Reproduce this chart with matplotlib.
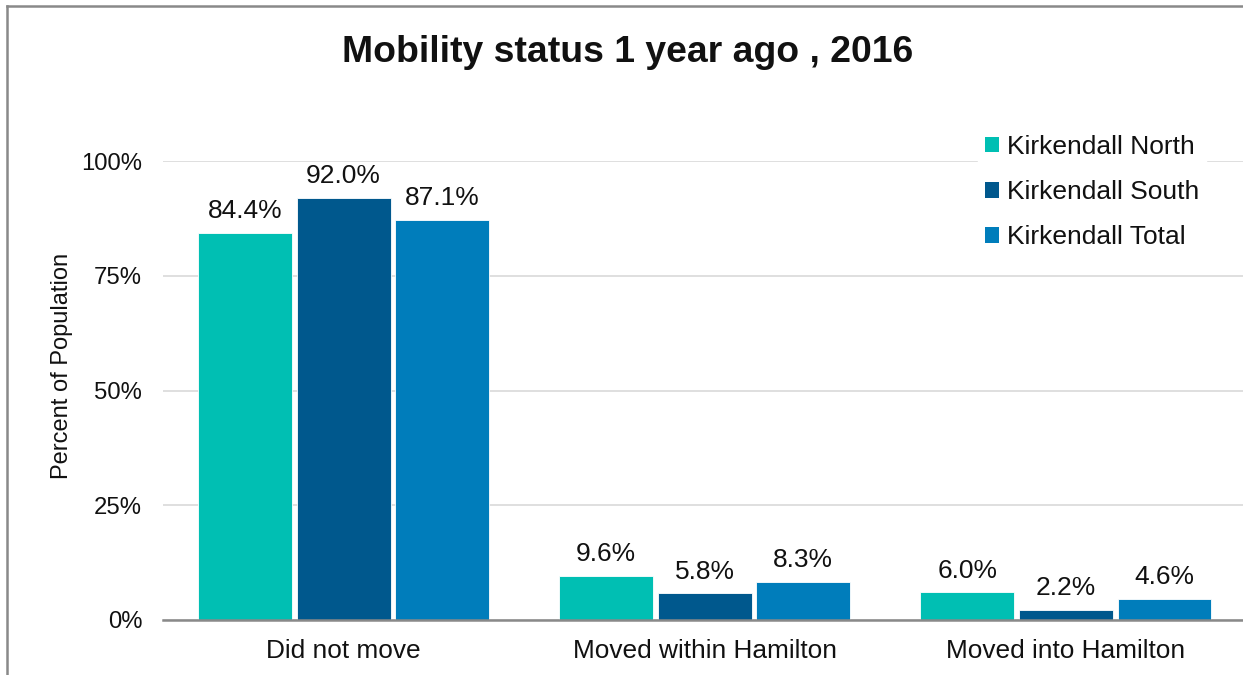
import matplotlib.pyplot as plt
from matplotlib.patches import Patch
from matplotlib.lines import Line2D
from matplotlib.ticker import PercentFormatter
import numpy as np

plt.rcParams['font.family'] = ['Liberation Sans', 'DejaVu Sans']

categories = ['Did not move', 'Moved within Hamilton', 'Moved into Hamilton']
series = ['Kirkendall North', 'Kirkendall South', 'Kirkendall Total']
north = [84.4, 9.6, 6.0]
south = [92.0, 5.8, 2.2]
total = [87.1, 8.3, 4.6]
colors = ['#00BFB3', '#00588D', '#007DBB']

W, H = 1243, 675
fig = plt.figure(figsize=(W / 100, H / 100), dpi=100)
ax = fig.add_axes([163 / W, 1 - 620 / H, (1246.5 - 163) / W, (620 - 161) / H])

x = np.arange(len(categories))
width = 0.26
step = 0.273
for i, (vals, col) in enumerate(zip([north, south, total], colors)):
    pos = x + (i - 1) * step
    bars = ax.bar(pos, vals, width, color=col, edgecolor='white', linewidth=0.6, zorder=3)
    for b, v in zip(bars, vals):
        ax.annotate(f'{v:.1f}%', (b.get_x() + b.get_width() / 2, v),
                    xytext=(0, 7), textcoords='offset points',
                    ha='center', va='bottom', fontsize=19, color='#111111')

ax.set_xlim(-0.5, 2.5)
ax.set_ylim(0, 100)
ax.set_yticks([0, 25, 50, 75, 100])
ax.yaxis.set_major_formatter(PercentFormatter(decimals=0))
ax.set_xticks(x)
ax.set_xticklabels(categories)
ax.tick_params(axis='both', length=0, colors='#111111')
ax.tick_params(axis='x', pad=14, labelsize=18.9)
ax.tick_params(axis='y', pad=15, labelsize=17.2)
ax.grid(axis='y', color='#D9D9D9', linewidth=1.2, zorder=0)
ax.set_axisbelow(True)
for s in ['top', 'right', 'left']:
    ax.spines[s].set_visible(False)
ax.spines['bottom'].set_color('#898989')
ax.spines['bottom'].set_linewidth(1.8)
ax.spines['bottom'].set_zorder(4)

ax.set_ylabel('Percent of Population', fontsize=17, color='#111111')
ax.yaxis.set_label_coords((73 - 163) / 1083.5, (620 - 366) / 459)

fig.text(628 / W, 1 - 52 / H, 'Mobility status 1 year ago , 2016',
         ha='center', va='center', fontsize=26.9, fontweight='bold', color='#111111')

handles = [Patch(facecolor=c, edgecolor='none') for c in colors]
leg = fig.legend(handles, series, loc='upper left', bbox_to_anchor=(965 / W, 1 - 115 / H),
                 fontsize=19, frameon=True, facecolor='white', edgecolor='white',
                 framealpha=1, handlelength=0.55, handleheight=0.55, handletextpad=0.3,
                 labelspacing=0.8, borderpad=0.25, fancybox=False)
for t in leg.get_texts():
    t.set_color('#111111')

fig.add_artist(Line2D([7 / W, 7 / W], [0, 1 - 6 / H], color='#898989', linewidth=1.8))
fig.add_artist(Line2D([7 / W, 1], [1 - 6 / H, 1 - 6 / H], color='#898989', linewidth=1.8))

fig.savefig('out.png', dpi=100)
